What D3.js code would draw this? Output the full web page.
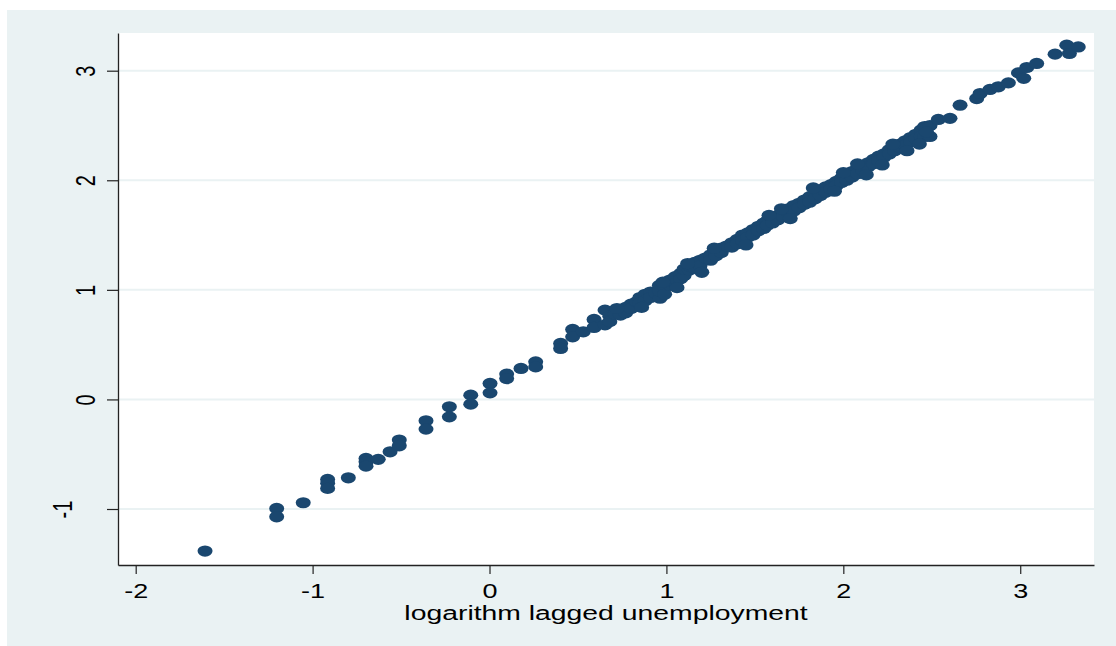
<!DOCTYPE html>
<html>
<head>
<meta charset="utf-8">
<script src="https://cdn.jsdelivr.net/npm/d3@7"></script>
<style>
  html, body { margin: 0; padding: 0; background: #ffffff; }
  svg { display: block; }
  text { font-family: "Liberation Sans", Arial, Helvetica, sans-serif; fill: #000; }
</style>
</head>
<body>
<svg id="chart" width="1116" height="646"></svg>
<script>
// ---- data: lagged log unemployment (x) vs log unemployment (y) ----
const lagLogUnemp = [
  -1.608, -1.203, -1.203, -1.053, -0.915, -0.915, -0.915, -0.798,
  -0.698, -0.698, -0.698, -0.629, -0.562, -0.510, -0.510, -0.359, -0.359,
  -0.227, -0.227, -0.106, -0.106, 0.003, 0.003, 0.097, 0.097, 0.178,
  0.261, 0.261, 0.402, 0.402, 0.470, 0.470, 0.530, 0.591, 0.591, 0.653, 0.653,
  0.68, 0.68, 0.71, 0.74, 0.74, 0.77, 0.77, 0.80, 0.80, 0.83, 0.85, 0.85,
  0.88, 0.88, 0.91, 0.91, 0.94, 0.964, 0.96, 0.96, 0.99, 0.99, 1.02, 1.02,
  1.05, 1.05, 1.08, 1.08, 1.10, 1.10, 1.13, 1.13, 1.16, 1.16, 1.19, 1.19,
  1.22, 1.25, 1.25, 1.28, 1.28, 1.31, 1.31, 1.34, 1.37, 1.37, 1.40, 1.40,
  1.43, 1.43, 1.46, 1.46, 1.49, 1.49, 1.52, 1.52, 1.55, 1.55, 1.57, 1.57,
  1.60, 1.60, 1.63, 1.63, 1.66, 1.66, 1.69, 1.69, 1.72, 1.72, 1.75, 1.75,
  1.78, 1.78, 1.81, 1.81, 1.84, 1.84, 1.87, 1.87, 1.90, 1.90, 1.93, 1.93,
  1.96, 1.96, 1.99, 1.99, 2.02, 2.02, 2.05, 2.05, 2.08, 2.08, 2.11, 2.11,
  2.14, 2.14, 2.17, 2.17, 2.20, 2.20, 2.23, 2.23, 2.26, 2.26, 2.29, 2.29,
  2.32, 2.32, 2.35, 2.35, 2.38, 2.38, 2.41, 2.41, 2.44, 2.44, 2.46, 2.46,
  2.49, 2.49, 2.537, 2.603, 2.66, 2.754, 2.773, 2.829, 2.876, 2.933,
  2.99, 3.02, 3.037, 3.093, 3.197, 3.263, 3.278, 3.328,
  1.06, 1.12, 1.27, 1.45, 1.58, 1.70, 1.83, 1.95, 2.08, 2.13, 2.28,
  2.36, 2.43, 2.47, 0.72, 0.86, 0.98, 1.20, 1.65, 2.00, 2.22
];
const logUnemp = [
  -1.384, -0.995, -1.071, -0.943, -0.730, -0.766, -0.812, -0.715,
  -0.538, -0.569, -0.609, -0.547, -0.478, -0.371, -0.423, -0.195, -0.271,
  -0.067, -0.159, 0.039, -0.043, 0.146, 0.060, 0.231, 0.190, 0.283,
  0.343, 0.297, 0.511, 0.465, 0.639, 0.571, 0.617, 0.730, 0.657, 0.815, 0.680,
  0.76, 0.71, 0.78, 0.81, 0.77, 0.84, 0.79, 0.87, 0.83, 0.89, 0.93, 0.88,
  0.96, 0.90, 0.98, 0.93, 0.97, 0.924, 1.04, 0.99, 1.03, 0.96, 1.09, 1.04,
  1.12, 1.06, 1.15, 1.10, 1.13, 1.19, 1.18, 1.22, 1.25, 1.20, 1.27, 1.22,
  1.29, 1.32, 1.27, 1.35, 1.31, 1.38, 1.34, 1.40, 1.43, 1.39, 1.46, 1.42,
  1.50, 1.45, 1.52, 1.48, 1.55, 1.50, 1.58, 1.54, 1.61, 1.56, 1.63, 1.59,
  1.66, 1.61, 1.68, 1.64, 1.71, 1.67, 1.74, 1.70, 1.77, 1.72, 1.79, 1.75,
  1.82, 1.78, 1.85, 1.80, 1.88, 1.83, 1.91, 1.86, 1.94, 1.89, 1.96, 1.92,
  1.99, 1.95, 2.02, 1.98, 2.05, 2.00, 2.08, 2.03, 2.11, 2.06, 2.13, 2.09,
  2.16, 2.12, 2.19, 2.15, 2.22, 2.18, 2.24, 2.21, 2.28, 2.24, 2.30, 2.27,
  2.33, 2.30, 2.36, 2.32, 2.39, 2.35, 2.42, 2.38, 2.46, 2.40, 2.40, 2.49,
  2.50, 2.40, 2.555, 2.565, 2.685, 2.746, 2.792, 2.829, 2.853, 2.889,
  2.98, 2.93, 3.029, 3.066, 3.151, 3.233, 3.157, 3.217,
  1.02, 1.24, 1.38, 1.41, 1.68, 1.65, 1.93, 1.90, 2.15, 2.05, 2.33,
  2.27, 2.33, 2.44, 0.83, 0.84, 1.07, 1.16, 1.74, 2.07, 2.14
];
const xTicks = [-2, -1, 0, 1, 2, 3];
const yTicks = [-1, 0, 1, 2, 3];
const xTitle = "logarithm lagged unemployment";

// ---- layout ----
const svg = d3.select("#chart");
const W = 1116, H = 646;
const plot = { left: 118, right: 1094, top: 33, bottom: 565 };
const stretch = 1.35;   // horizontal text stretch seen in the reference
const bg = "#eaf2f3", markerColor = "#1a476f";

svg.append("rect").attr("x", 0).attr("y", 0).attr("width", W).attr("height", H).attr("fill", "#ffffff");
svg.append("rect").attr("x", 7).attr("y", 10).attr("width", W - 7).attr("height", H - 10).attr("fill", bg);
svg.append("rect").attr("x", plot.left).attr("y", plot.top)
   .attr("width", plot.right - plot.left).attr("height", plot.bottom - plot.top).attr("fill", "#ffffff");

const x = d3.scaleLinear().domain([-2.1, 3.417]).range([plot.left, plot.right]);
const y = d3.scaleLinear().domain([-1.511, 3.344]).range([plot.bottom, plot.top]);

// gridlines
svg.append("g").selectAll("line").data(yTicks).join("line")
  .attr("x1", plot.left).attr("x2", plot.right)
  .attr("y1", d => y(d)).attr("y2", d => y(d))
  .attr("stroke", bg).attr("stroke-width", 2);

// points
const pts = lagLogUnemp.map((v, i) => [v, logUnemp[i]]);
svg.append("g").selectAll("ellipse").data(pts).join("ellipse")
  .attr("cx", d => x(d[0])).attr("cy", d => y(d[1]))
  .attr("rx", 7.5).attr("ry", 5.6)
  .attr("fill", markerColor);

// x axis
const gx = svg.append("g").attr("transform", `translate(0,${plot.bottom})`)
  .call(d3.axisBottom(x).tickValues(xTicks).tickSize(9).tickSizeOuter(0).tickFormat(d3.format("d")));
gx.select(".domain").attr("stroke", "#222").attr("stroke-width", 1.3);
gx.selectAll(".tick line").attr("stroke", "#222").attr("stroke-width", 1.2);
gx.selectAll(".tick text")
  .attr("y", null).attr("dy", null)
  .attr("transform", `translate(0,33) scale(${stretch},1)`)
  .attr("font-size", 20).attr("fill", "#000")
  .attr("font-family", "'Liberation Sans', Arial, sans-serif")
  .text(d => d < 0 ? "-" + Math.abs(d) : String(d));

// y axis
const gy = svg.append("g").attr("transform", `translate(${plot.left},0)`)
  .call(d3.axisLeft(y).tickValues(yTicks).tickSize(11).tickSizeOuter(0));
gy.select(".domain").attr("stroke", "#222").attr("stroke-width", 1.3);
gy.selectAll(".tick line").attr("stroke", "#222").attr("stroke-width", 1.2);
gy.selectAll(".tick text")
  .attr("x", null).attr("dy", null)
  .attr("text-anchor", "middle")
  .attr("transform", d => `translate(${d < 0 ? -46 : -23},0) scale(${stretch},1) rotate(-90)`)
  .attr("font-size", 20).attr("fill", "#000")
  .attr("font-family", "'Liberation Sans', Arial, sans-serif")
  .text(d => d < 0 ? "-" + Math.abs(d) : String(d));

// x axis title
svg.append("text")
  .attr("transform", `translate(${(plot.left + plot.right) / 2},620) scale(${stretch},1)`)
  .attr("text-anchor", "middle")
  .attr("font-size", 21)
  .text(xTitle);
</script>
</body>
</html>
